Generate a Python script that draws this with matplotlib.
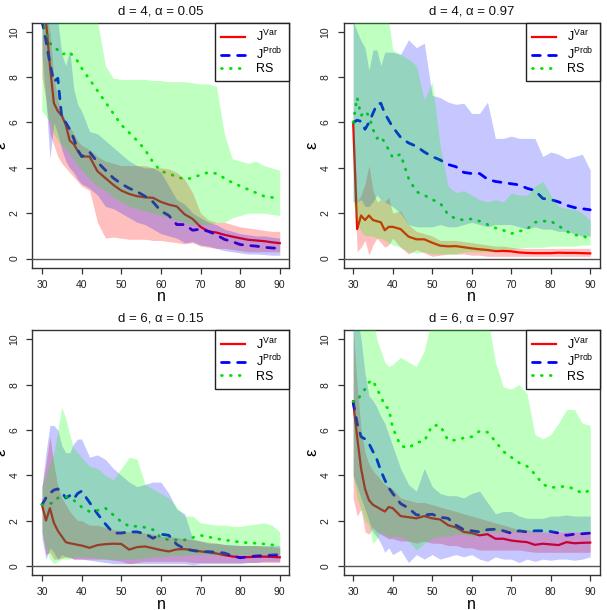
import numpy as np
import matplotlib
matplotlib.use("Agg")
import matplotlib.pyplot as plt
from matplotlib.lines import Line2D

plt.rcParams['font.family'] = ['Liberation Sans', 'DejaVu Sans']
plt.rcParams['mathtext.fontset'] = 'custom'
plt.rcParams['mathtext.rm'] = 'Liberation Sans'
plt.rcParams['mathtext.it'] = 'Liberation Sans:italic'

# sample sizes (finer steps at the start)
n = list(range(30, 41)) + list(range(42, 91, 2))

titles = ["d = 4, \u03b1 = 0.05", "d = 4, \u03b1 = 0.97",
          "d = 6, \u03b1 = 0.15", "d = 6, \u03b1 = 0.97"]

# ---- panel 1: d=4, alpha=0.05
var_mid_1 = [13.0, 10.5, 8.5, 6.85, 6.5, 6.3, 5.9, 5.2, 5.05, 4.75, 4.5,
             4.5, 3.85, 3.55, 3.25, 3.0, 2.85, 2.75, 2.7, 2.68, 2.5, 2.38, 2.3, 1.95, 1.75,
             1.4, 1.2, 1.15, 1.05, 0.97, 0.9, 0.83, 0.8, 0.77, 0.72, 0.68]
var_lo_1 = [8.0, 7.0, 5.5, 5.0, 4.5, 4.2, 4.0, 3.8, 3.6, 3.4, 3.2,
            3.0, 1.6, 0.9, 0.95, 0.9, 0.85, 0.85, 0.85, 0.8, 0.8, 0.75, 0.7, 0.65, 0.7,
            0.55, 0.5, 0.45, 0.45, 0.4, 0.35, 0.3, 0.3, 0.3, 0.3, 0.3]
var_hi_1 = [11.0, 11.0, 10.0, 8.0, 7.0, 6.5, 6.0, 5.8, 5.5, 5.2, 5.0,
            4.8, 4.5, 4.3, 4.2, 4.1, 4.1, 4.1, 4.1, 4.0, 4.0, 3.95, 3.8, 3.5, 2.9,
            2.0, 1.7, 1.6, 1.6, 1.5, 1.4, 1.35, 1.3, 1.25, 1.2, 1.2]
prob_mid_1 = [10.5, 9.6, 8.6, 7.8, 7.95, 6.2, 6.0, 5.7, 5.3, 4.8, 4.5,
              4.7, 4.25, 3.9, 3.55, 3.3, 3.1, 2.95, 2.75, 2.5, 2.1, 1.9, 1.5, 1.5, 1.25,
              1.3, 1.2, 1.05, 0.85, 0.75, 0.62, 0.58, 0.55, 0.5, 0.47, 0.45]
prob_lo_1 = [9.0, 7.0, 4.4, 6.0, 5.5, 4.8, 4.3, 4.0, 3.8, 3.5, 3.3,
             3.1, 2.8, 2.3, 2.2, 2.0, 1.8, 1.6, 1.5, 1.3, 1.1, 1.0, 0.9, 0.7, 0.75,
             0.6, 0.55, 0.45, 0.35, 0.3, 0.25, 0.2, 0.2, 0.18, 0.15, 0.15]
prob_hi_1 = [11.0, 11.0, 11.0, 11.0, 10.5, 9.0, 8.5, 9.2, 7.5, 6.8, 6.5,
             5.6, 5.5, 5.2, 4.9, 4.6, 4.3, 4.1, 4.0, 4.0, 3.8, 3.2, 2.6, 2.4, 2.0,
             1.8, 1.6, 1.5, 1.3, 1.2, 1.1, 1.05, 1.0, 1.0, 0.95, 0.9]
rs_mid_1 = [10.6, 10.0, 9.5, 9.3, 9.2, 9.0, 9.05, 9.1, 8.9, 8.7, 8.4,
            7.9, 7.4, 6.9, 6.4, 5.9, 5.55, 5.2, 4.8, 4.25, 3.85, 3.75, 3.6, 3.5, 3.55,
            3.7, 3.8, 3.75, 3.55, 3.35, 3.2, 3.05, 2.9, 2.75, 2.7, 2.6]
rs_lo_1 = [6.5, 6.3, 6.0, 5.5, 5.2, 5.0, 4.8, 4.6, 4.4, 4.1, 3.9,
           3.5, 3.2, 3.0, 2.7, 2.5, 2.3, 2.2, 2.1, 2.0, 1.9, 1.8, 1.7, 1.6, 1.5,
           1.5, 1.5, 1.6, 1.6, 1.8, 1.9, 2.0, 2.0, 2.0, 1.95, 1.9]
rs_hi_1 = [12, 12, 12, 12, 12, 12, 12, 12, 12, 12, 12,
           12, 10.5, 8.5, 7.95, 7.9, 7.9, 7.9, 7.9, 7.85, 7.85, 7.8, 7.8, 7.8, 7.75,
           7.7, 7.7, 7.6, 5.5, 4.4, 4.3, 4.2, 4.3, 4.1, 4.0, 3.9]

# ---- panel 2: d=4, alpha=0.97
var_mid_2 = [6.0, 1.3, 1.9, 1.7, 1.9, 1.7, 1.65, 1.6, 1.25, 1.4, 1.4,
             1.3, 0.97, 0.85, 0.85, 0.7, 0.57, 0.54, 0.55, 0.5, 0.45, 0.41, 0.38, 0.33, 0.34,
             0.32, 0.27, 0.25, 0.24, 0.24, 0.24, 0.26, 0.25, 0.25, 0.24, 0.23]
var_lo_2 = [5.0, 0.3, 0.5, 0.8, 0.15, 0.6, 0.9, 0.7, 0.5, 0.6, 0.9,
            0.5, 0.2, 0.4, 0.25, 0.1, 0.15, 0.2, 0.2, 0.2, 0.15, 0.15, 0.1, 0.1, 0.1,
            0.1, 0.1, 0.1, 0.1, 0.1, 0.1, 0.1, 0.1, 0.1, 0.1, 0.1]
var_hi_2 = [6.5, 2.5, 2.8, 3.3, 4.1, 3.0, 2.5, 2.6, 2.5, 2.7, 2.0,
            2.1, 1.5, 1.2, 1.1, 1.0, 0.8, 0.8, 0.8, 0.75, 0.7, 0.65, 0.6, 0.55, 0.55,
            0.5, 0.45, 0.45, 0.45, 0.45, 0.45, 0.45, 0.45, 0.45, 0.45, 0.45]
prob_mid_2 = [6.0, 6.1, 6.05, 5.7, 6.0, 6.4, 6.8, 6.85, 6.4, 6.1, 5.8,
              5.35, 5.1, 4.95, 4.7, 4.5, 4.35, 4.15, 4.05, 3.8, 3.75, 3.75, 3.5, 3.4, 3.35,
              3.3, 3.25, 3.1, 3.0, 2.65, 2.6, 2.5, 2.35, 2.25, 2.2, 2.15]
prob_lo_2 = [2.5, 2.5, 2.6, 2.3, 2.3, 2.5, 2.8, 2.6, 2.5, 2.4, 2.3,
             2.0, 1.5, 1.4, 1.4, 1.4, 1.5, 1.4, 1.4, 1.5, 1.6, 1.5, 1.4, 1.5, 1.5,
             1.5, 1.4, 1.3, 1.4, 1.3, 1.3, 1.2, 1.2, 1.1, 1.0, 1.0]
prob_hi_2 = [10.5, 10.0, 9.6, 9.3, 8.3, 9.2, 9.2, 8.5, 9.1, 9.1, 9.1,
             9.0, 9.65, 9.3, 9.5, 7.2, 7.1, 6.9, 6.8, 6.85, 6.4, 6.4, 6.9, 5.3, 5.3,
             5.4, 5.3, 5.3, 5.3, 4.5, 4.7, 4.6, 4.4, 4.5, 4.6, 3.9]
rs_mid_2 = [6.0, 7.1, 6.3, 6.5, 6.3, 5.7, 5.3, 5.4, 5.1, 4.8, 4.45,
            4.6, 3.55, 2.95, 2.8, 2.6, 2.45, 1.95, 1.75, 1.7, 1.75, 1.65, 1.5, 1.35, 1.25,
            1.1, 1.2, 1.3, 1.6, 1.65, 1.65, 1.45, 1.2, 1.05, 0.98, 0.9]
rs_lo_2 = [2.5, 1.5, 1.2, 1.0, 1.0, 1.0, 0.9, 0.9, 0.8, 0.7, 0.6,
           0.5, 0.3, 0.25, 0.3, 0.2, 0.2, 0.2, 0.2, 0.3, 0.3, 0.3, 0.3, 0.35, 0.4,
           0.4, 0.45, 0.5, 0.5, 0.5, 0.55, 0.55, 0.55, 0.55, 0.6, 0.6]
rs_hi_2 = [12, 12, 12, 12, 12, 12, 12, 12, 12, 10.5, 9.2,
           9.0, 8.8, 8.5, 7.0, 7.8, 5.0, 3.2, 2.9, 3.0, 2.8, 2.6, 2.5, 2.6, 2.5,
           2.9, 2.8, 2.8, 3.2, 3.4, 2.8, 2.3, 2.2, 2.2, 2.0, 1.7]

# ---- panel 3: d=6, alpha=0.15
var_mid_3 = [2.7, 2.0, 2.55, 1.9, 1.55, 1.3, 1.05, 1.0, 0.97, 0.93, 0.9,
             0.8, 0.92, 0.96, 0.98, 0.97, 0.72, 0.83, 0.86, 0.78, 0.7, 0.64, 0.73, 0.74, 0.7,
             0.64, 0.6, 0.55, 0.48, 0.42, 0.38, 0.39, 0.4, 0.41, 0.4, 0.38]
var_lo_3 = [1.5, 0.5, 0.6, 0.3, 0.3, 0.35, 0.4, 0.35, 0.3, 0.3, 0.3,
            0.3, 0.3, 0.3, 0.25, 0.2, 0.1, 0.15, 0.2, 0.2, 0.2, 0.2, 0.2, 0.2, 0.15,
            0.15, 0.15, 0.15, 0.15, 0.15, 0.15, 0.15, 0.15, 0.15, 0.15, 0.15]
var_hi_3 = [3.5, 4.5, 5.7, 4.5, 3.5, 3.0, 2.7, 2.4, 2.2, 2.0, 2.0,
            1.8, 1.8, 1.7, 1.6, 1.55, 1.5, 1.5, 1.45, 1.4, 1.3, 1.3, 1.25, 1.2, 1.15,
            1.1, 1.05, 1.0, 0.95, 0.9, 0.9, 0.9, 0.9, 0.85, 0.85, 0.8]
prob_mid_3 = [2.7, 3.0, 3.2, 3.35, 3.4, 3.25, 3.0, 3.1, 2.95, 3.2, 3.3,
              2.8, 2.3, 1.85, 1.45, 1.45, 1.5, 1.5, 1.42, 1.22, 1.4, 1.35, 0.95, 0.75, 0.68,
              0.63, 0.63, 0.6, 0.57, 0.45, 0.36, 0.4, 0.44, 0.46, 0.48, 0.5]
prob_lo_3 = [1.2, 0.3, 0.8, 0.6, 0.3, 0.5, 0.4, 0.4, 0.3, 0.3, 0.3,
             0.25, 0.2, 0.15, 0.1, 0.1, 0.1, 0.1, 0.1, 0.1, 0.1, 0.1, 0.1, 0.1, 0.05,
             0.1, 0.1, 0.1, 0.1, 0.1, 0.1, 0.15, 0.15, 0.2, 0.2, 0.2]
prob_hi_3 = [3.5, 5.0, 6.2, 6.2, 6.0, 5.3, 5.0, 5.0, 5.4, 5.6, 5.6,
             4.8, 4.9, 4.7, 4.3, 4.0, 3.7, 3.5, 3.6, 3.7, 3.7, 3.2, 2.5, 2.3, 1.2,
             1.1, 1.0, 1.0, 0.95, 0.95, 0.9, 0.9, 0.9, 0.9, 0.9, 0.9]
rs_mid_3 = [2.7, 2.7, 2.75, 2.8, 3.0, 3.0, 3.05, 3.0, 2.9, 2.75, 2.6,
            2.4, 2.45, 2.55, 2.25, 1.95, 1.75, 1.75, 1.7, 1.6, 1.25, 1.15, 1.15, 1.15, 1.25,
            1.35, 1.28, 1.2, 1.15, 1.1, 1.05, 1.02, 1.0, 0.97, 0.93, 0.9]
rs_lo_3 = [1.5, 0.8, 0.3, 0.1, 0.2, 0.3, 0.3, 0.3, 0.4, 0.4, 0.4,
           0.4, 0.35, 0.3, 0.3, 0.3, 0.3, 0.3, 0.35, 0.4, 0.4, 0.45, 0.45, 0.45, 0.5,
           0.5, 0.5, 0.5, 0.5, 0.5, 0.5, 0.5, 0.5, 0.5, 0.5, 0.5]
rs_hi_3 = [3.5, 4.0, 4.5, 5.0, 6.0, 7.0, 6.5, 5.8, 5.2, 5.0, 4.8,
           4.4, 4.3, 4.0, 3.8, 4.3, 4.8, 4.7, 3.6, 3.4, 3.2, 3.0, 2.6, 2.2, 2.2,
           1.9, 1.85, 1.8, 1.8, 1.75, 1.75, 1.8, 1.85, 1.9, 1.8, 1.5]

# ---- panel 4: d=6, alpha=0.97
var_mid_4 = [7.25, 5.7, 4.3, 3.4, 2.9, 2.7, 2.6, 2.5, 2.4, 2.6, 2.55,
             2.2, 2.15, 2.1, 2.2, 2.1, 2.05, 1.8, 1.7, 1.5, 1.45, 1.35, 1.4, 1.2, 1.2,
             1.12, 1.08, 1.05, 0.93, 0.98, 0.95, 0.92, 1.05, 1.0, 1.02, 1.03]
var_lo_4 = [3.0, 2.2, 2.5, 1.5, 1.4, 1.7, 1.5, 1.4, 1.3, 1.2, 1.2,
            1.1, 1.1, 1.0, 1.1, 1.0, 1.0, 0.9, 0.9, 0.8, 0.8, 0.7, 0.7, 0.7, 0.7,
            0.7, 0.7, 0.65, 0.6, 0.6, 0.6, 0.6, 0.6, 0.6, 0.6, 0.6]
var_hi_4 = [10.5, 8.0, 6.0, 5.0, 4.5, 4.2, 4.0, 3.8, 3.6, 3.5, 3.4,
            3.0, 2.9, 2.8, 2.8, 2.7, 2.6, 2.5, 2.4, 2.3, 2.2, 2.1, 2.0, 1.9, 1.8,
            1.7, 1.6, 1.6, 1.5, 1.5, 1.5, 1.5, 1.5, 1.5, 1.5, 1.5]
prob_mid_4 = [7.25, 6.3, 5.7, 5.6, 5.4, 5.05, 4.7, 4.2, 3.8, 3.45, 3.2,
              2.75, 2.55, 2.25, 2.25, 2.28, 2.15, 2.1, 1.8, 1.6, 1.55, 1.5, 1.6, 1.62, 1.55,
              1.45, 1.55, 1.5, 1.55, 1.55, 1.52, 1.45, 1.35, 1.4, 1.42, 1.45]
prob_lo_4 = [4.0, 3.5, 3.0, 2.5, 2.0, 1.5, 1.3, 1.0, 0.6, 0.8, 0.5,
             0.7, 0.15, 0.5, 0.3, 0.5, 0.3, 0.4, 0.5, 0.4, 0.5, 0.3, 0.2, 0.4, 0.3,
             0.3, 0.15, 0.3, 0.2, 0.3, 0.25, 0.3, 0.3, 0.25, 0.3, 0.4]
prob_hi_4 = [11, 11, 10, 8.5, 7.5, 7.3, 7.0, 6.6, 6.3, 5.8, 5.3,
             4.3, 3.6, 3.3, 4.3, 3.5, 3.2, 3.1, 3.1, 3.0, 3.2, 3.3, 2.8, 2.3, 2.4,
             2.4, 2.2, 2.1, 2.1, 2.1, 2.2, 2.2, 2.25, 2.2, 2.2, 2.2]
rs_mid_4 = [7.25, 7.25, 7.6, 7.8, 8.1, 8.2, 7.8, 7.5, 7.05, 6.95, 6.1,
            5.3, 5.2, 5.45, 5.5, 6.2, 6.2, 5.55, 5.55, 5.65, 5.7, 5.95, 5.9, 5.5, 5.05,
            4.8, 4.55, 4.4, 4.05, 3.6, 3.45, 3.5, 3.5, 3.4, 3.2, 3.35]
rs_lo_4 = [4.0, 3.0, 2.5, 2.0, 1.8, 1.0, 1.2, 1.5, 1.4, 1.3, 1.3,
           1.3, 1.1, 0.7, 1.0, 1.2, 1.3, 1.3, 1.4, 1.4, 1.3, 1.4, 1.5, 1.5, 1.5,
           1.5, 1.5, 1.5, 1.5, 1.5, 1.5, 1.55, 1.5, 1.5, 1.5, 1.5]
rs_hi_4 = [11, 11, 11, 11, 11, 11, 10.0, 9.5, 9.0, 8.8, 8.9,
           9.2, 9.0, 8.8, 9.5, 11, 11, 11, 11, 11, 11, 11, 11, 9.0, 7.9,
           7.8, 8.0, 7.6, 5.8, 5.6, 5.8, 6.3, 6.9, 6.9, 6.3, 6.2]

panels = [
    (var_mid_1, var_lo_1, var_hi_1, prob_mid_1, prob_lo_1, prob_hi_1, rs_mid_1, rs_lo_1, rs_hi_1),
    (var_mid_2, var_lo_2, var_hi_2, prob_mid_2, prob_lo_2, prob_hi_2, rs_mid_2, rs_lo_2, rs_hi_2),
    (var_mid_3, var_lo_3, var_hi_3, prob_mid_3, prob_lo_3, prob_hi_3, rs_mid_3, rs_lo_3, rs_hi_3),
    (var_mid_4, var_lo_4, var_hi_4, prob_mid_4, prob_lo_4, prob_hi_4, rs_mid_4, rs_lo_4, rs_hi_4),
]

# axes boxes in figure fractions (left, bottom, width, height)
boxes = [(0.0535, 0.5612, 0.4231, 0.4016), (0.5662, 0.5612, 0.4218, 0.4016),
         (0.0535, 0.0574, 0.4231, 0.4012), (0.5662, 0.0574, 0.4218, 0.4012)]

dash_b = (0, (2.8, 3.0))
dot_g = (0, (0.3, 2.9))

fig = plt.figure(figsize=(6.07, 6.10), dpi=100)

for k in range(4):
    ax = fig.add_axes(boxes[k])
    vm, vl, vh, pm, pl, ph, rm, rl, rh = panels[k]

    # lines first, shaded bands drawn over them (as in the original)
    ax.plot(n, vm, color='red', lw=1.6, zorder=2)
    ax.plot(n, pm, color='blue', lw=2.0, ls=dash_b, dash_capstyle='round', zorder=2)
    ax.plot(n, rm, color='#00e000', lw=2.0, ls=dot_g, dash_capstyle='round', zorder=2)
    ax.fill_between(n, vl, vh, color='red', alpha=0.25, lw=0, zorder=3)
    ax.fill_between(n, pl, ph, color='blue', alpha=0.22, lw=0, zorder=3)
    ax.fill_between(n, rl, rh, color='#00ff00', alpha=0.25, lw=0, zorder=3)
    ax.axhline(0, color='#555555', lw=1.0, zorder=4)

    ax.set_xlim(27.6, 92.4)
    ax.set_ylim(-0.4, 10.4)
    ax.set_xticks([30, 40, 50, 60, 70, 80, 90])
    ax.set_yticks([0, 2, 4, 6, 8, 10])
    ax.tick_params(length=4, width=0.9, color='#333333', labelsize=7.5,
                   labelcolor='#222222')
    ax.tick_params(axis='x', pad=5.0)
    ax.tick_params(axis='y', pad=5.5)
    for lab in ax.get_yticklabels():
        lab.set_rotation(90)
        lab.set_va('center')
    for sp in ax.spines.values():
        sp.set_color('#333333')
        sp.set_linewidth(1.0)

    ax.set_title(titles[k], fontsize=9.5, pad=6, color='#111111')
    ax.set_xlabel('n', fontsize=11.5, labelpad=-0.5)
    ax.set_ylabel('\u03b5', fontsize=12)
    ax.yaxis.set_label_coords(-0.095, 0.5)

    handles = [Line2D([], [], color='red', lw=1.6),
               Line2D([], [], color='blue', lw=2.0, ls=dash_b, dash_capstyle='round'),
               Line2D([], [], color='#00e000', lw=2.0, ls=dot_g, dash_capstyle='round')]
    labels = [r'J$^{\mathrm{Var}}$', r'J$^{\mathrm{Prob}}$', 'RS']
    leg = ax.legend(handles, labels, loc='upper right', borderaxespad=0,
                    fancybox=False, framealpha=1, edgecolor='#222222',
                    fontsize=9, handlelength=1.9, handletextpad=0.9,
                    borderpad=0.5, labelspacing=0.1)
    leg.get_frame().set_linewidth(1.0)
    leg.set_zorder(6)

fig.savefig('out.png', dpi=100)
